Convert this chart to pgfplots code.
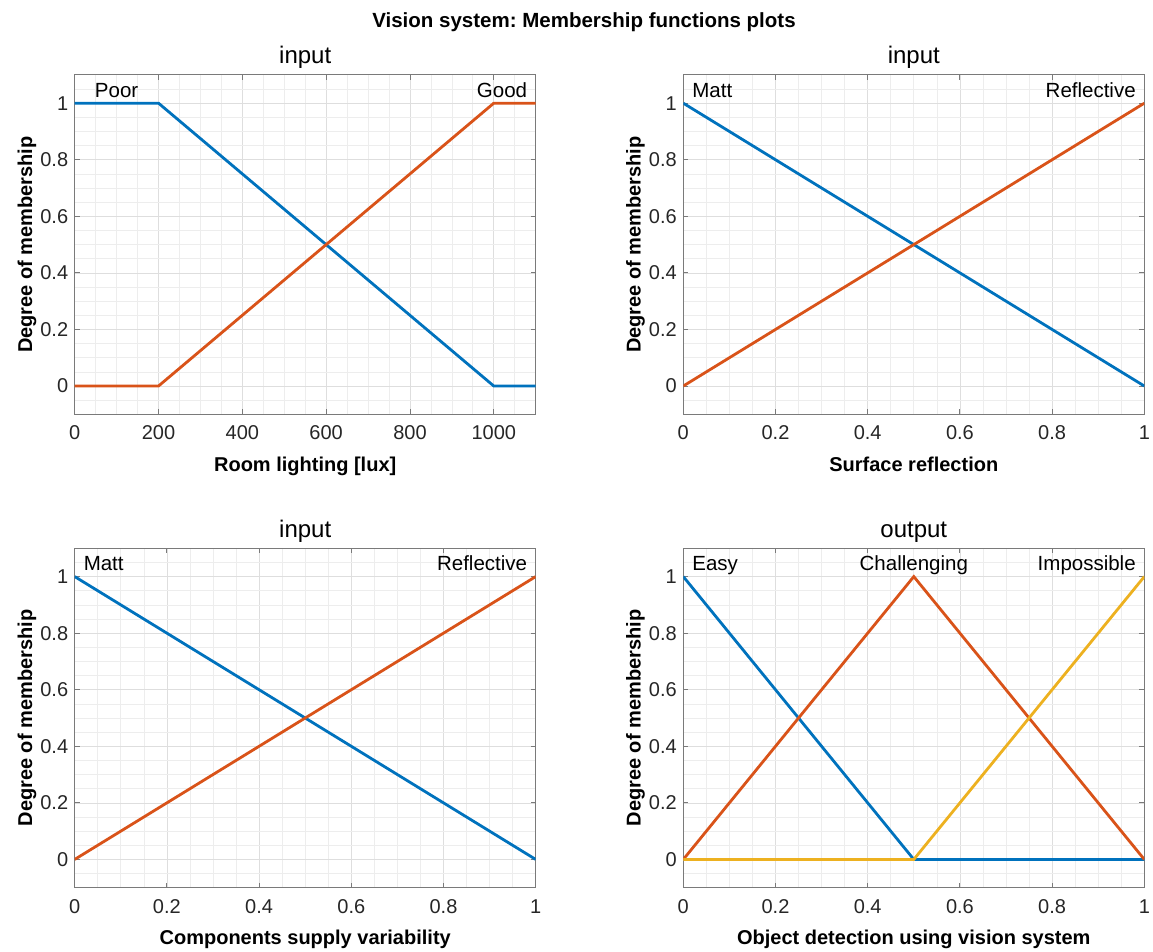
\documentclass[border=0pt]{standalone}
\usepackage{fontspec}
\setmainfont{Liberation Sans}
\usepackage{pgfplots}
\pgfplotsset{compat=1.18}
\frenchspacing
\definecolor{mblue}{HTML}{0072BD}
\definecolor{morange}{HTML}{D95319}
\definecolor{myellow}{HTML}{EDB120}
\definecolor{axgray}{HTML}{7A7A7A}
\definecolor{tickgray}{HTML}{262626}
\pgfplotsset{
  mstyle/.style={
    scale only axis, width=461pt, height=339.4pt,
    ymin=-0.1, ymax=1.1,
    ytick={0,0.2,0.4,0.6,0.8,1},
    minor ytick={-0.05,0.05,0.1,0.15,0.25,0.3,0.35,0.45,0.5,0.55,0.65,0.7,0.75,0.85,0.9,0.95,1.05},
    grid=both,
    major grid style={draw=black!13, line width=0.7pt},
    minor grid style={draw=black!7, line width=0.7pt},
    axis line style={draw=axgray, line width=0.9pt},
    tick style={draw=axgray, line width=0.9pt},
    tick align=inside, xtick pos=both, ytick pos=both,
    major tick length=5pt, minor tick length=0pt,
    /pgf/number format/assume math mode=true,
    /pgf/number format/1000 sep={},
    tick label style={font=\fontsize{20}{24}\selectfont, text=tickgray},
    xticklabel style={yshift=-8pt},
    yticklabel style={xshift=-3pt},
    xlabel style={font=\fontsize{20}{24}\selectfont\bfseries, at={(axis description cs:0.5,0)}, anchor=base, yshift=-57pt},
    ylabel style={font=\fontsize{20}{24}\selectfont\bfseries, at={(axis description cs:-0.1035,0.5)}, anchor=center},
    title style={font=\fontsize{24}{28}\selectfont, at={(axis description cs:0.5,1)}, anchor=base, yshift=5pt},
    every axis plot/.append style={line width=2.8pt, mark=none},
    ylabel={Degree of membership},
  },
  unitx/.style={
    xmin=0, xmax=1,
    xtick={0,0.2,0.4,0.6,0.8,1},
    minor xtick={0.05,0.1,0.15,0.25,0.3,0.35,0.45,0.5,0.55,0.65,0.7,0.75,0.85,0.9,0.95},
  },
}
\newcommand{\annfont}{\fontsize{20.5}{24}\selectfont}
\begin{document}
\begin{tikzpicture}
\useasboundingbox (0,0) rectangle (1153pt,-952pt);
\node[anchor=base, font=\fontsize{20.5}{24}\selectfont\bfseries] at (584pt,-27.3pt) {Vision system: Membership functions plots};

% Top-left
\begin{axis}[mstyle, at={(74.7pt,-414.3pt)}, anchor=south west,
  xmin=0, xmax=1100, xtick={0,200,400,600,800,1000},
  minor xtick={50,100,150,250,300,350,450,500,550,650,700,750,850,900,950,1050},
  title={input}, xlabel={Room lighting [lux]}]
\addplot[mblue] coordinates {(0,1) (200,1) (1000,0) (1100,0)};
\addplot[morange] coordinates {(0,0) (200,0) (1000,1) (1100,1)};
\node[anchor=base, font=\annfont] at (axis cs:100,1.02) {Poor};
\node[anchor=base east, font=\annfont] at (axis cs:1088,1.02) {Good};
\end{axis}

% Top-right
\begin{axis}[mstyle, unitx, at={(683.3pt,-414.3pt)}, anchor=south west,
  title={input}, xlabel={Surface reflection}]
\addplot[mblue] coordinates {(0,1) (1,0)};
\addplot[morange] coordinates {(0,0) (1,1)};
\node[anchor=base west, font=\annfont] at (axis cs:0.012,1.02) {Matt};
\node[anchor=base east, font=\annfont] at (axis cs:0.989,1.02) {Reflective};
\end{axis}

% Bottom-left
\begin{axis}[mstyle, unitx, at={(74.7pt,-887.7pt)}, anchor=south west,
  title={input}, xlabel={Components supply variability}]
\addplot[mblue] coordinates {(0,1) (1,0)};
\addplot[morange] coordinates {(0,0) (1,1)};
\node[anchor=base west, font=\annfont] at (axis cs:0.012,1.02) {Matt};
\node[anchor=base east, font=\annfont] at (axis cs:0.989,1.02) {Reflective};
\end{axis}

% Bottom-right
\begin{axis}[mstyle, unitx, at={(683.3pt,-887.7pt)}, anchor=south west,
  title={output}, xlabel={Object detection using vision system}]
\addplot[mblue] coordinates {(0,1) (0.5,0) (1,0)};
\addplot[morange] coordinates {(0,0) (0.5,1) (1,0)};
\addplot[myellow] coordinates {(0,0) (0.5,0) (1,1)};
\node[anchor=base west, font=\annfont] at (axis cs:0.012,1.02) {Easy};
\node[anchor=base, font=\annfont] at (axis cs:0.5,1.02) {Challenging};
\node[anchor=base east, font=\annfont] at (axis cs:0.989,1.02) {Impossible};
\end{axis}
\end{tikzpicture}
\end{document}
